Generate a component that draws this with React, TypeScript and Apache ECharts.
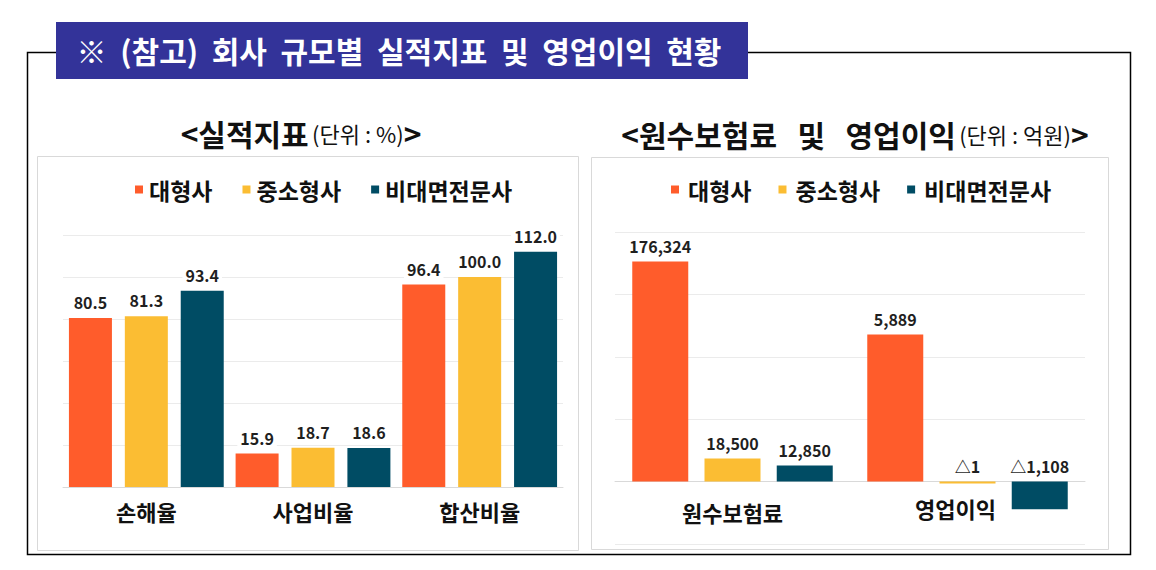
import React, { useEffect, useRef } from 'react';
import * as echarts from 'echarts';

const FONT = '"Noto Sans CJK KR", "Noto Sans", sans-serif';

const seriesNames = ['대형사', '중소형사', '비대면전문사'];
const seriesColors = ['#FF5C2B', '#FBBD33', '#004C64'];

// Left chart: 실적지표 (단위: %)
const ratioCategories = ['손해율', '사업비율', '합산비율'];
const ratioLarge = [80.5, 15.9, 96.4];
const ratioMid = [81.3, 18.7, 100.0];
const ratioOnline = [93.4, 18.6, 112.0];
const ratioTicks = { min: 0, max: 120, interval: 20 };

// Right chart: 원수보험료 및 영업이익 (단위: 억원) - two separate scales
const premiumCategory = ['원수보험료'];
const premiumValues = [176324, 18500, 12850]; // 대형사, 중소형사, 비대면전문사
const premiumTicks = { min: -50000, max: 200000, interval: 50000 };
const profitCategory = ['영업이익'];
const profitValues = [5889, -1, -1108];
const profitTicks = { min: -2500, max: 10000, interval: 2500 };

const title = '※  (참고)  회사  규모별  실적지표  및  영업이익  현황';

const fmtAmount = (v: number) => (v < 0 ? '△' + Math.abs(v).toLocaleString('en-US') : v.toLocaleString('en-US'));

export default function App() {
  const ref = useRef<HTMLDivElement>(null);

  useEffect(() => {
    if (!ref.current) return;
    const chart = echarts.init(ref.current, undefined, { renderer: 'svg' });

    const valueLabel = (fmt: (v: number) => string) => ({
      show: true,
      position: 'top' as const,
      distance: 6,
      fontFamily: FONT,
      fontSize: 16,
      fontWeight: 'bold' as const,
      color: '#1f1f1f',
      backgroundColor: '#ffffff',
      padding: [2, 3],
      formatter: (p: any) => fmt(p.value as number),
    });

    const ratioData = [ratioLarge, ratioMid, ratioOnline];

    const series: any[] = [];
    seriesNames.forEach((name, i) => {
      series.push({
        name,
        type: 'bar',
        xAxisIndex: 0,
        yAxisIndex: 0,
        data: ratioData[i],
        barWidth: 43,
        barGap: '30%',
        itemStyle: { color: seriesColors[i] },
        label: valueLabel((v) => v.toFixed(1)),
      });
    });
    seriesNames.forEach((name, i) => {
      series.push({
        name,
        type: 'bar',
        xAxisIndex: 1,
        yAxisIndex: 1,
        data: [premiumValues[i]],
        barWidth: 56,
        barGap: '29%',
        itemStyle: { color: seriesColors[i] },
        label: valueLabel(fmtAmount),
      });
    });
    seriesNames.forEach((name, i) => {
      series.push({
        name,
        type: 'bar',
        xAxisIndex: 2,
        yAxisIndex: 2,
        data: [profitValues[i]],
        barWidth: 56,
        barGap: '29%',
        barMinHeight: 2,
        itemStyle: { color: seriesColors[i] },
        label: valueLabel(fmtAmount),
      });
    });

    const splitLine = { show: true, lineStyle: { color: '#ebebeb', width: 1 } };
    const catAxis = (data: string[], gridIndex: number, margin: number, offset: number, padding?: number[]) => ({
      type: 'category',
      gridIndex,
      data,
      position: 'bottom',
      offset,
      axisLine: { show: true, onZero: false, lineStyle: { color: '#d9d9d9', width: 1 } },
      axisTick: { show: false },
      axisLabel: {
        fontFamily: FONT,
        fontSize: 22,
        fontWeight: 'bold',
        color: '#111111',
        margin,
        padding: padding || 0,
      },
    });
    const valAxis = (gridIndex: number, t: { min: number; max: number; interval: number }) => ({
      type: 'value',
      gridIndex,
      min: t.min,
      max: t.max,
      interval: t.interval,
      axisLine: { show: false },
      axisTick: { show: false },
      axisLabel: { show: false },
      splitLine,
    });

    const legend = (left: number, itemGap: number, textPad: number) => ({
      show: true,
      left,
      top: 178,
      padding: 0,
      itemWidth: 8,
      itemHeight: 8,
      itemGap,
      icon: 'rect',
      selectedMode: false,
      data: seriesNames,
      textStyle: {
        fontFamily: FONT,
        fontSize: 23,
        fontWeight: 'bold',
        color: '#111111',
        padding: [0, 0, 0, textPad],
      },
    });

    const gridBase = { containLabel: false, outerBoundsMode: 'none' };

    const option: any = {
      animation: false,
      backgroundColor: '#ffffff',
      textStyle: { fontFamily: FONT },
      legend: [legend(135, 30, 1), legend(671, 27, 4)],
      grid: [
        { ...gridBase, left: 63, width: 500, top: 235, height: 252 },
        { ...gridBase, left: 615, width: 235, top: 232, height: 312 },
        { ...gridBase, left: 850, width: 235, top: 232, height: 312 },
      ],
      xAxis: [
        catAxis(ratioCategories, 0, 13, 0),
        catAxis(premiumCategory, 1, 19, -62.4),
        catAxis(profitCategory, 2, 15, -62.4, [0, 24, 0, 0]),
      ],
      yAxis: [valAxis(0, ratioTicks), valAxis(1, premiumTicks), valAxis(2, profitTicks)],
      graphic: [
        {
          type: 'rect',
          z: -10,
          shape: { x: 27.5, y: 52.5, width: 1103, height: 502 },
          style: { fill: 'none', stroke: '#000000', lineWidth: 1.5 },
        },
        {
          type: 'rect',
          z: -9,
          shape: { x: 37.5, y: 156.5, width: 541, height: 394 },
          style: { fill: '#ffffff', stroke: '#d9d9d9', lineWidth: 1 },
        },
        {
          type: 'rect',
          z: -9,
          shape: { x: 591.5, y: 157.5, width: 517, height: 392 },
          style: { fill: '#ffffff', stroke: '#d9d9d9', lineWidth: 1 },
        },
        {
          type: 'rect',
          z: 10,
          shape: { x: 56, y: 22, width: 692, height: 57 },
          style: { fill: '#333399' },
        },
        {
          type: 'text',
          z: 11,
          style: {
            x: 399,
            y: 50,
            text: title,
            align: 'center',
            verticalAlign: 'middle',
            fill: '#ffffff',
            fontFamily: FONT,
            fontSize: 30,
            fontWeight: 'bold',
          },
        },
        {
          type: 'text',
          z: 11,
          style: {
            x: 301,
            y: 133,
            text: '{b|<실적지표} {s|(단위 : %)}{b|>}',
            align: 'center',
            verticalAlign: 'middle',
            rich: {
              b: { fontFamily: FONT, fontSize: 30, fontWeight: 'bold', fill: '#111111', color: '#111111' },
              s: { fontFamily: FONT, fontSize: 22, fontWeight: 'normal', fill: '#111111', color: '#111111' },
            },
          },
        },
        {
          type: 'text',
          z: 11,
          style: {
            x: 855,
            y: 134,
            text: '{b|<원수보험료   및   영업이익} {s|(단위 : 억원)}{b|>}',
            align: 'center',
            verticalAlign: 'middle',
            rich: {
              b: { fontFamily: FONT, fontSize: 30, fontWeight: 'bold', fill: '#111111', color: '#111111' },
              s: { fontFamily: FONT, fontSize: 22, fontWeight: 'normal', fill: '#111111', color: '#111111' },
            },
          },
        },
      ],
      series,
    };

    chart.setOption(option);
    return () => chart.dispose();
  }, []);

  return (
    <div
      ref={ref}
      style={{ position: 'absolute', left: 0, top: 0, width: 1156, height: 570, background: '#ffffff' }}
    />
  );
}
